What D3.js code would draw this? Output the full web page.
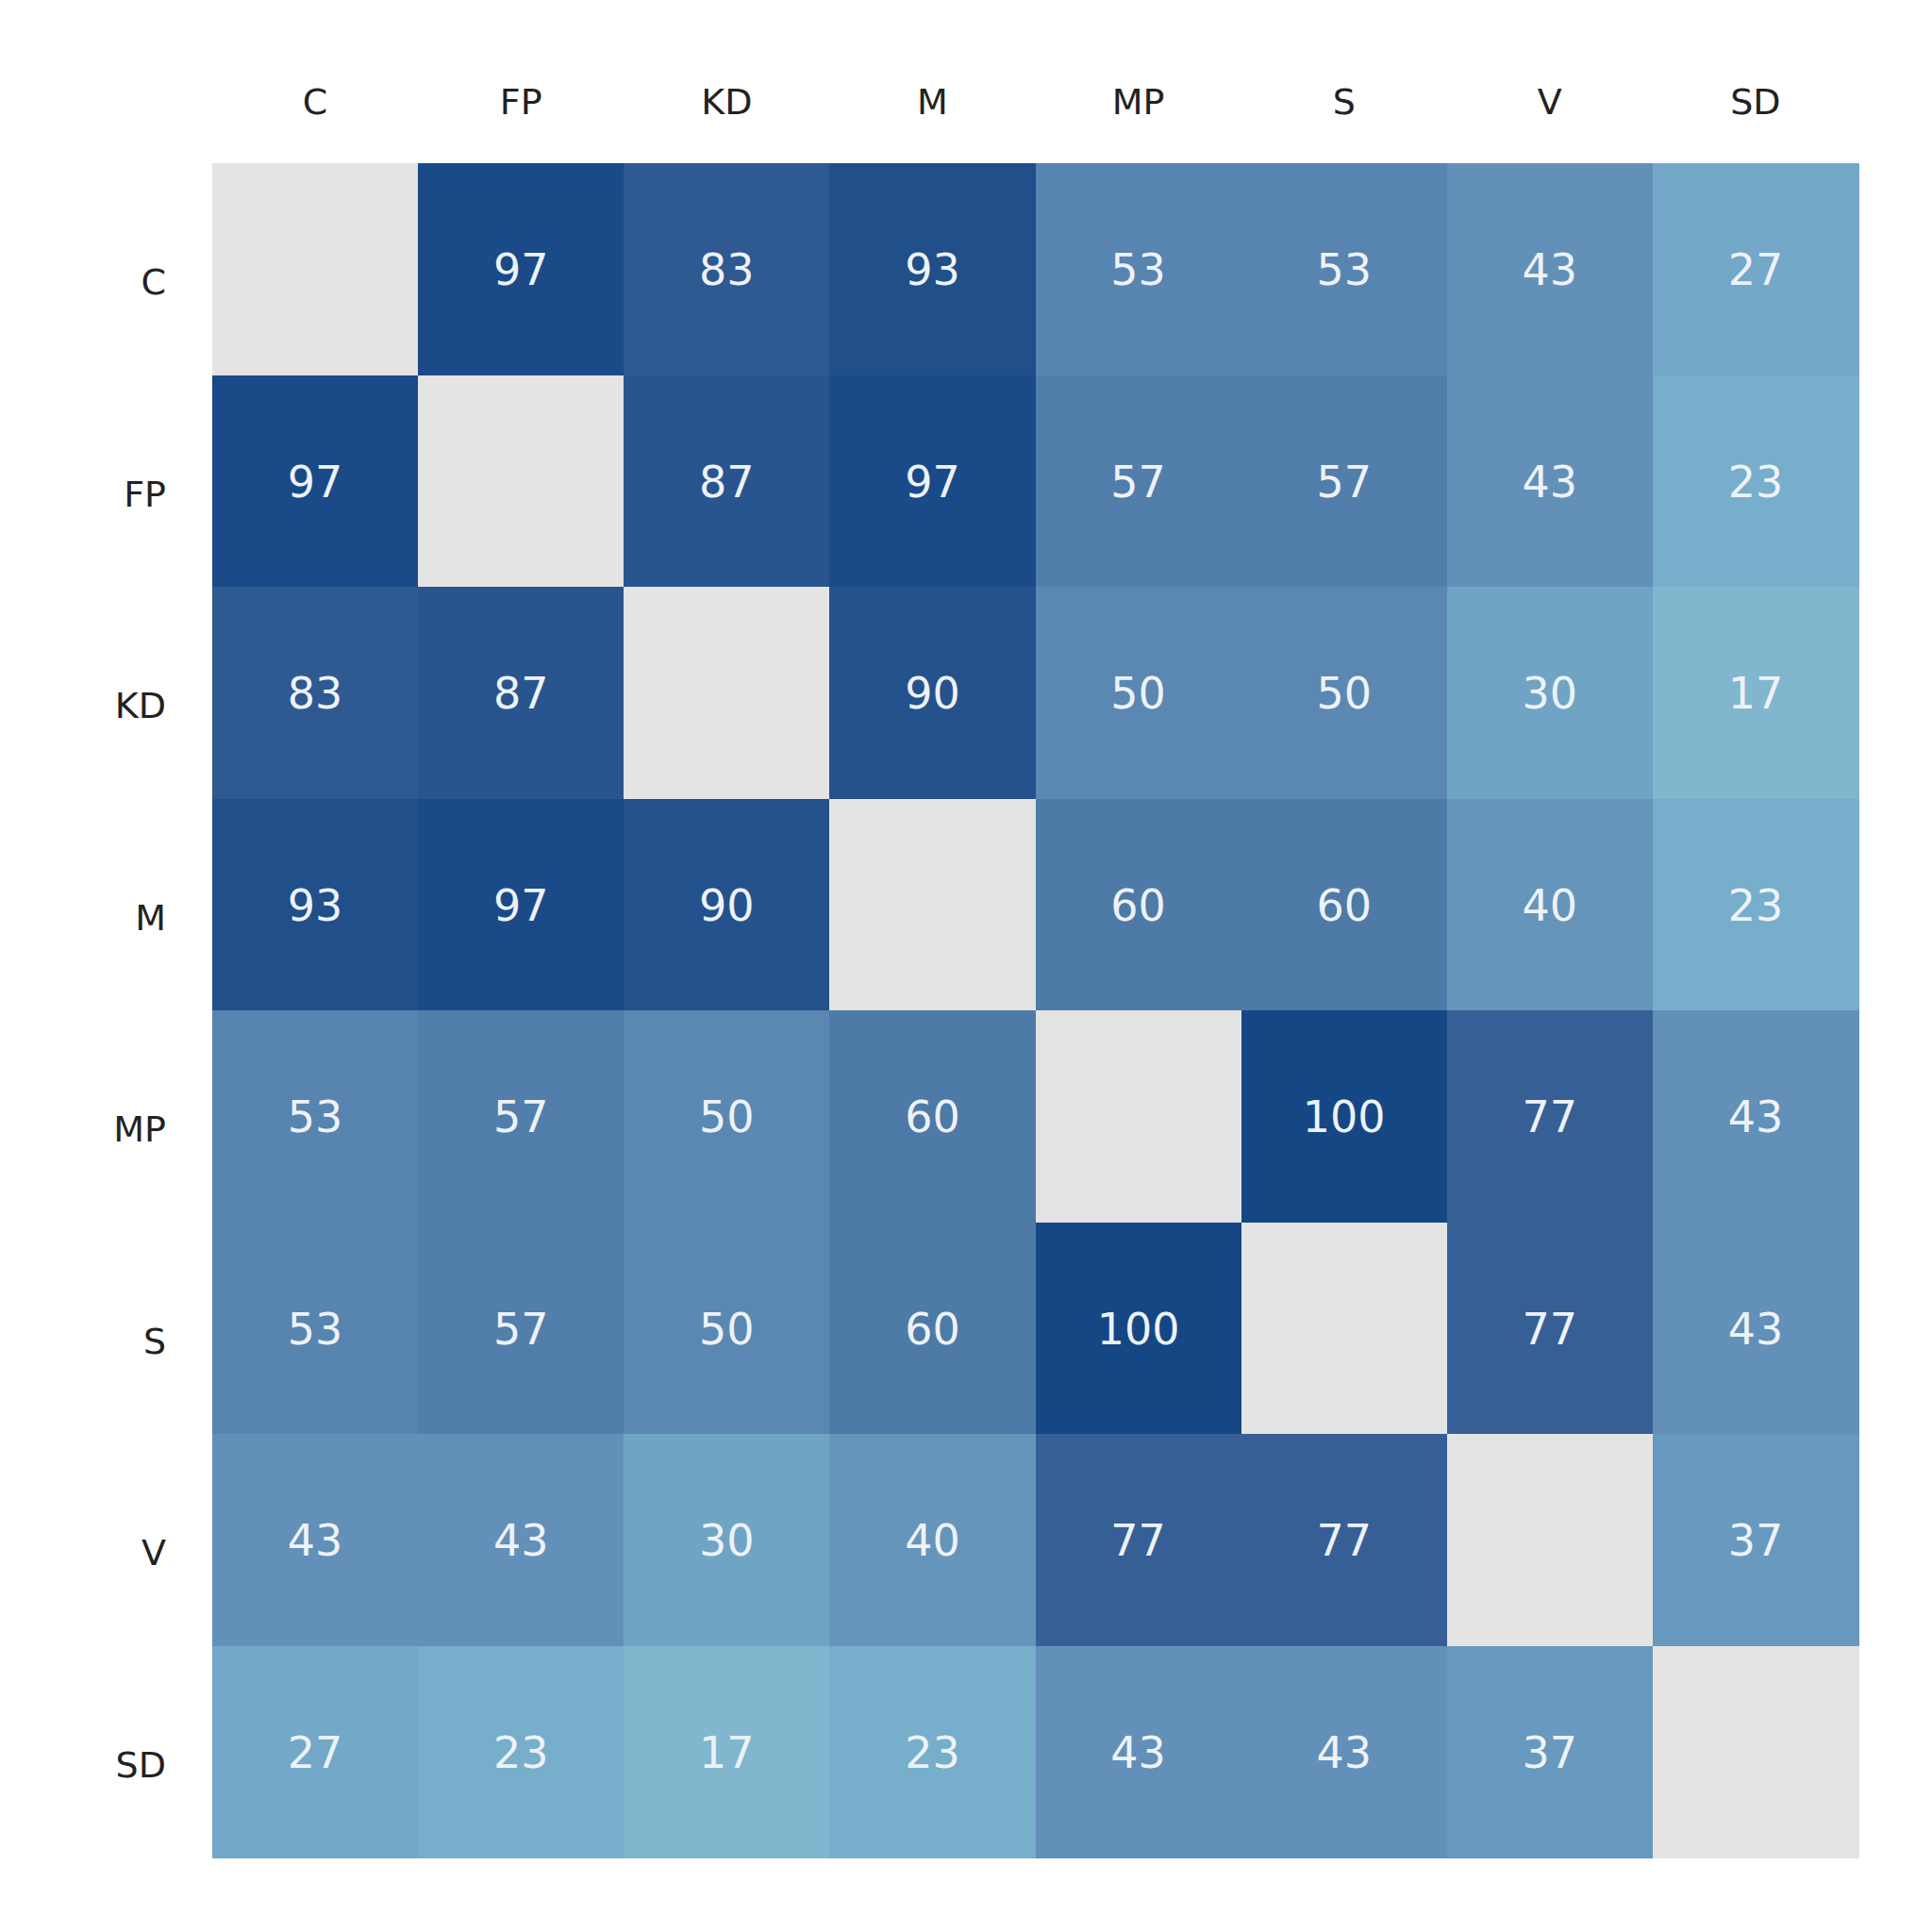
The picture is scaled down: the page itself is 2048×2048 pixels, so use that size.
<!DOCTYPE html>
<html>
<head>
<meta charset="utf-8">
<script src="https://cdn.jsdelivr.net/npm/d3@7"></script>
<style>
html,body{margin:0;padding:0;background:#fff;}
svg{display:block;}
text{font-family:"DejaVu Sans",sans-serif;}
</style>
</head>
<body>
<svg id="chart" width="2048" height="2048"></svg>
<script>
const categories = ["C","FP","KD","M","MP","S","V","SD"];
const rowC  = [null,97,83,93,53,53,43,27];
const rowFP = [97,null,87,97,57,57,43,23];
const rowKD = [83,87,null,90,50,50,30,17];
const rowM  = [93,97,90,null,60,60,40,23];
const rowMP = [53,57,50,60,null,100,77,43];
const rowS  = [53,57,50,60,100,null,77,43];
const rowV  = [43,43,30,40,77,77,null,37];
const rowSD = [27,23,17,23,43,43,37,null];
const matrix = [rowC,rowFP,rowKD,rowM,rowMP,rowS,rowV,rowSD];

const colorStops = [17,23,30,43,53,60,77,90,100];
const colorRange = ["#80b7cf","#76aecb","#70a4c5","#6290b8","#5884b0","#4e7aa8","#365f96","#24528c","#154785"];

const svg = d3.select("#chart");
const x = d3.scaleBand().domain(categories).range([225,1970]).padding(0);
const y = d3.scaleBand().domain(categories).range([173,1969]).padding(0);
const color = d3.scaleLinear().domain(colorStops).range(colorRange);

const cells = [];
matrix.forEach((row,i)=>row.forEach((v,j)=>cells.push({r:categories[i],c:categories[j],v})));

svg.append("g").attr("shape-rendering","crispEdges").selectAll("rect").data(cells).join("rect")
  .attr("x",d=>x(d.c)).attr("y",d=>y(d.r))
  .attr("width",x.bandwidth()+0.5).attr("height",y.bandwidth()+0.5)
  .attr("fill",d=>d.v==null?"#e4e4e4":color(d.v));

svg.append("g").selectAll("text").data(cells.filter(d=>d.v!=null)).join("text")
  .attr("x",d=>x(d.c)+x.bandwidth()/2)
  .attr("y",d=>y(d.r)+y.bandwidth()/2+1)
  .attr("text-anchor","middle").attr("dominant-baseline","central")
  .attr("font-size",46).attr("fill","#eef2f7")
  .text(d=>d.v);

// column labels (top)
const xAxis = d3.axisTop(x).tickSize(0).tickPadding(0);
const gx = svg.append("g").attr("transform","translate(0,108)").call(xAxis);
gx.select(".domain").remove();
gx.selectAll("text").attr("font-size",38).attr("fill","#222")
  .attr("font-family","DejaVu Sans, sans-serif").attr("dy","0.35em");

// row labels (left)
const yAxis = d3.axisLeft(y).tickSize(0).tickPadding(0);
const gy = svg.append("g").attr("transform","translate(176,15)").call(yAxis);
gy.select(".domain").remove();
gy.selectAll("text").attr("font-size",38).attr("fill","#222")
  .attr("font-family","DejaVu Sans, sans-serif");
</script>
</body>
</html>
